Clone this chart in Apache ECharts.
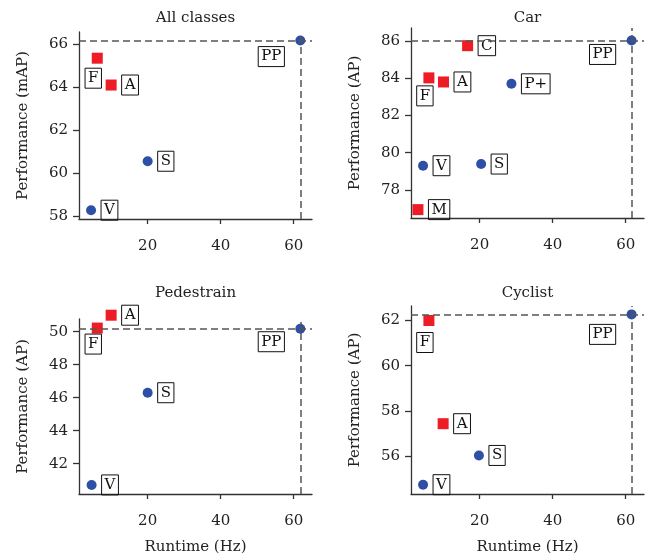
<!DOCTYPE html>
<html>
<head>
<meta charset="utf-8">
<title>Performance vs runtime</title>
<script src="https://cdn.jsdelivr.net/npm/echarts@6/dist/echarts.min.js"></script>
<style>
  html, body { margin: 0; padding: 0; background: #fff; }
  #main { width: 648px; height: 559px; }
</style>
</head>
<body>
<div id="main"></div>
<script>
    // x ticks shared by all panels
    var runtimeTicks = [20, 40, 60];

    // All classes
    var allTitle = 'All classes';
    var allTicks = [58, 60, 62, 64, 66];
    var allSqNames = ['F', 'A'];
    var allSqRuntime = [6.2, 10.0];
    var allSqPerf = [65.35, 64.1];
    var allCiNames = ['S', 'V', 'PP'];
    var allCiRuntime = [20.0, 4.5, 61.8];
    var allCiPerf = [60.55, 58.27, 66.17];

    // Car
    var carTitle = 'Car';
    var carTicks = [78, 80, 82, 84, 86];
    var carSqNames = ['C', 'F', 'A', 'M'];
    var carSqRuntime = [16.7, 6.1, 10.1, 3.1];
    var carSqPerf = [85.75, 84.02, 83.8, 76.94];
    var carCiNames = ['P+', 'S', 'V', 'PP'];
    var carCiRuntime = [28.7, 20.4, 4.5, 61.6];
    var carCiPerf = [83.7, 79.39, 79.3, 86.03];

    // Pedestrain
    var pedTitle = 'Pedestrain';
    var pedTicks = [42, 44, 46, 48, 50];
    var pedSqNames = ['F', 'A'];
    var pedSqRuntime = [6.2, 10.0];
    var pedSqPerf = [50.22, 51.0];
    var pedCiNames = ['S', 'V', 'PP'];
    var pedCiRuntime = [20.0, 4.65, 61.8];
    var pedCiPerf = [46.3, 40.71, 50.18];

    // Cyclist
    var cycTitle = 'Cyclist';
    var cycTicks = [56, 58, 60, 62];
    var cycSqNames = ['F', 'A'];
    var cycSqRuntime = [6.1, 10.0];
    var cycSqPerf = [61.99, 57.44];
    var cycCiNames = ['S', 'V', 'PP'];
    var cycCiRuntime = [19.8, 4.5, 61.6];
    var cycCiPerf = [56.04, 54.75, 62.26];

    var FONT = 'DejaVu Serif';
    var INK = '#222';
    var RED = '#ee1c25';
    var BLUE = '#2d4fa6';

    // layout of the four panels (px)
    var panels = [
        { title: allTitle, titleTop: 11, yName: 'Performance (mAP)', ticks: allTicks, yMin: 57.86, yMax: 66.57,
          left: 79, top: 32, width: 233, height: 187, xName: '',
          sq: [allSqNames, allSqRuntime, allSqPerf], ci: [allCiNames, allCiRuntime, allCiPerf],
          fOff: [-4, 20], ppOff: [-29, 16] },
        { title: carTitle, titleTop: 11, yName: 'Performance (AP)', ticks: carTicks, yMin: 76.49, yMax: 86.7,
          left: 411, top: 28, width: 233, height: 190, xName: '',
          sq: [carSqNames, carSqRuntime, carSqPerf], ci: [carCiNames, carCiRuntime, carCiPerf],
          fOff: [-4, 18], ppOff: [-29, 14] },
        { title: pedTitle, titleTop: 286, yName: 'Performance (AP)', ticks: pedTicks, yMin: 40.16, yMax: 50.77,
          left: 79, top: 319, width: 233, height: 175, xName: 'Runtime (Hz)',
          sq: [pedSqNames, pedSqRuntime, pedSqPerf], ci: [pedCiNames, pedCiRuntime, pedCiPerf],
          fOff: [-4, 16], ppOff: [-29, 13] },
        { title: cycTitle, titleTop: 286, yName: 'Performance (AP)', ticks: cycTicks, yMin: 54.34, yMax: 62.63,
          left: 411, top: 306, width: 233, height: 188, xName: 'Runtime (Hz)',
          sq: [cycSqNames, cycSqRuntime, cycSqPerf], ci: [cycCiNames, cycCiRuntime, cycCiPerf],
          fOff: [-4, 22], ppOff: [-29, 20] }
    ];

    var titles = [], grids = [], xAxes = [], yAxes = [], series = [];

    function points(cols, p) {
        var names = cols[0], xs = cols[1], ys = cols[2];
        return names.map(function (n, i) {
            var item = { name: n, value: [xs[i], ys[i]] };
            if (n === 'F' || n === 'PP') {
                item.label = { position: 'inside', offset: n === 'F' ? p.fOff : p.ppOff };
            }
            return item;
        });
    }

    var boxLabel = {
        show: true,
        formatter: '{b}',
        position: 'right',
        distance: 5,
        color: '#111',
        fontFamily: FONT,
        fontSize: 15,
        lineHeight: 15,
        borderColor: '#111',
        borderWidth: 1,
        padding: [3, 3, 2, 3]
    };

    panels.forEach(function (p, i) {
        titles.push({
            text: p.title,
            left: p.left + p.width / 2,
            top: p.titleTop,
            textAlign: 'center',
            padding: 0,
            textStyle: { fontFamily: FONT, fontSize: 15, fontWeight: 'normal', color: INK }
        });
        grids.push({ left: p.left, top: p.top, width: p.width, height: p.height });
        xAxes.push({
            type: 'value', gridIndex: i, min: 1.2, max: 65,
            name: p.xName, nameLocation: 'middle', nameGap: 46,
            nameTextStyle: { fontFamily: FONT, fontSize: 15, color: INK },
            axisLine: { lineStyle: { color: '#333', width: 1.3 } },
            axisTick: { length: 5, customValues: runtimeTicks, lineStyle: { color: '#333', width: 1.3 } },
            axisLabel: { customValues: runtimeTicks, margin: 20, fontFamily: FONT, fontSize: 15, color: INK },
            splitLine: { show: false }
        });
        yAxes.push({
            type: 'value', gridIndex: i, min: p.yMin, max: p.yMax,
            name: p.yName, nameLocation: 'middle', nameGap: 48,
            nameTextStyle: { fontFamily: FONT, fontSize: 15, color: INK },
            axisLine: { lineStyle: { color: '#333', width: 1.3 } },
            axisTick: { length: 6, customValues: p.ticks, lineStyle: { color: '#333', width: 1.3 } },
            axisLabel: { customValues: p.ticks, margin: 11, fontFamily: FONT, fontSize: 15, color: INK },
            splitLine: { show: false }
        });

        var ciNames = p.ci[0];
        var k = ciNames.indexOf('PP');
        series.push({
            type: 'scatter', xAxisIndex: i, yAxisIndex: i, clip: false,
            symbol: 'circle', symbolSize: 10,
            itemStyle: { color: BLUE, opacity: 1 },
            label: boxLabel,
            data: points(p.ci, p),
            markLine: {
                silent: true, symbol: ['none', 'none'], animation: false,
                label: { show: false },
                lineStyle: { type: [7, 4], color: '#555', width: 1.5, opacity: 1 },
                data: [{ yAxis: p.ci[2][k] }, { xAxis: p.ci[1][k] }]
            },
            z: 3
        });
        series.push({
            type: 'scatter', xAxisIndex: i, yAxisIndex: i, clip: false,
            symbol: 'rect', symbolSize: 11,
            itemStyle: { color: RED, opacity: 1 },
            label: boxLabel,
            data: points(p.sq, p),
            z: 3
        });
    });

    var chart = echarts.init(document.getElementById('main'));
    chart.setOption({
        animation: false,
        backgroundColor: '#fff',
        title: titles,
        grid: grids,
        xAxis: xAxes,
        yAxis: yAxes,
        series: series
    });
</script>
</body>
</html>
